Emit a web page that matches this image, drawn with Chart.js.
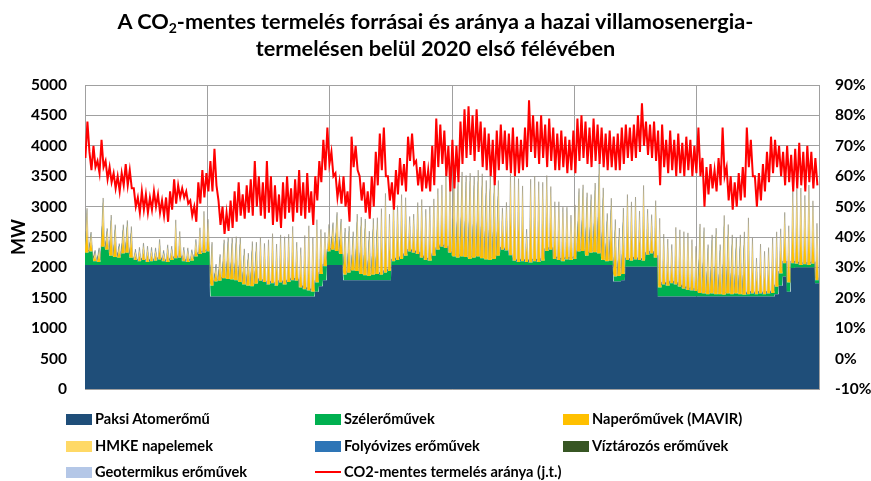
<!DOCTYPE html>
<html><head><meta charset="utf-8">
<script src="https://cdn.jsdelivr.net/npm/chart.js@4.4.0/dist/chart.umd.min.js"></script>
<style>
html,body{margin:0;padding:0;background:#fff;}
#wrap{position:relative;width:871px;height:481px;overflow:hidden;font-family:Lato,"Open Sans",sans-serif;color:#000;}
#c{position:absolute;left:0;top:0;}
#title{position:absolute;left:0;top:8px;width:871px;text-align:center;font-weight:bold;font-size:21.7px;line-height:27px;}
#title sub{font-size:14px;vertical-align:-4px;line-height:0;}
.lg{position:absolute;font-weight:bold;font-size:14.6px;line-height:16px;white-space:nowrap;}
.sw{position:absolute;width:26px;height:11px;}
.ln{position:absolute;width:26px;height:2px;background:#FF0000;}
</style></head>
<body><div id="wrap">
<canvas id="c" width="871" height="481"></canvas>
<div id="title">A CO<sub>2</sub>-mentes termelés forrásai és aránya a hazai villamosenergia-<br>termelésen belül 2020 első félévében</div>
<div id="legend"></div>
</div>
<script>
// ---- data: one value per day, 1 Jan 2020 – 30 Jun 2020 ----
const monthDays=[31,29,31,30,31,30];
const paks=[
2040,2040,2040,2040,2040,2040,2040,2040,2040,2040,2040,2040,2040,2040,2040,2040,2040,2040,2040,2040,2040,2040,2040,2040,2040,2040,2040,2040,2040,2040,2040,
1520,1520,1520,1520,1520,1520,1520,1520,1520,1520,1520,1520,1520,1520,1520,1520,1520,1520,1520,1520,1520,1520,1520,1520,1520,1520,1600,1690,1790,
2040,2040,2040,2040,1790,1790,1790,1790,1790,1790,1790,1790,1790,1790,1790,1790,2040,2040,2040,2040,2040,2040,2040,2040,2040,2040,2040,2040,2040,2040,2040,
2040,2040,2040,2040,2040,2040,2040,2040,2040,2040,2040,2040,2040,2040,2040,2040,2040,2040,2040,2040,2040,2040,2040,2040,2040,2040,2040,2040,2040,2040,
2040,2040,2040,2040,2040,2040,2040,2040,2040,2040,1770,1770,1790,2010,2010,2010,2010,2010,2010,2010,2010,1520,1520,1520,1520,1520,1520,1520,1520,1520,1520,
1520,1520,1520,1520,1520,1520,1520,1520,1520,1520,1520,1520,1520,1520,1520,1520,1520,1520,1520,1560,1700,1850,1600,1990,2000,2000,2000,2000,2000,1740];
const wind=[
200,220,60,50,300,250,150,130,120,190,200,120,80,60,80,50,60,70,90,60,50,80,110,120,60,50,70,140,180,200,220,
180,250,260,300,290,280,270,240,200,180,170,210,260,240,200,220,180,230,200,240,270,260,150,120,100,80,150,200,230,
220,250,230,180,90,120,160,150,100,80,70,90,100,90,120,150,60,80,100,150,220,200,180,120,80,70,150,250,300,280,200,
140,120,140,130,100,120,140,110,90,80,100,150,250,240,160,70,50,60,50,40,60,50,70,230,250,100,80,60,90,80,
100,220,230,150,200,210,190,80,60,70,80,90,100,110,100,120,110,100,200,220,150,150,200,180,220,200,160,130,110,100,90,
60,50,40,50,40,40,30,50,40,50,40,30,40,50,40,50,40,50,60,120,200,220,150,80,60,40,50,40,60,50];
// midday peak of solar output (MW)
const solarMavir=[
390,160,80,110,420,180,350,280,110,240,280,260,80,110,140,130,110,100,170,80,140,110,330,220,110,110,80,140,220,360,280,
370,140,220,330,360,360,370,390,300,280,390,360,370,330,390,430,360,410,410,410,470,330,340,470,570,470,550,390,290,
230,230,330,300,400,400,330,500,500,490,390,490,490,580,700,500,550,470,560,510,300,330,450,510,440,470,500,530,540,660,610,
690,660,740,720,750,720,760,740,690,760,720,660,360,410,720,740,730,660,280,730,750,700,690,660,550,500,510,470,450,390,
470,550,580,550,510,610,800,630,410,540,500,410,580,570,510,540,420,660,390,330,500,610,430,400,330,500,500,500,500,440,390,
610,580,430,510,580,430,700,610,520,480,520,550,670,480,310,430,370,400,480,480,390,440,500,630,660,680,610,700,550,500];
const solarHmke=[
310,130,70,90,350,140,290,220,90,200,220,220,70,90,110,100,90,80,130,70,110,90,270,180,90,90,70,110,180,290,220,
310,110,180,270,290,290,310,310,250,220,310,290,310,270,310,350,290,340,340,340,380,270,280,380,460,390,450,310,230,
180,180,270,240,330,330,270,400,400,400,310,400,400,470,570,400,450,390,460,410,240,270,360,410,360,390,400,440,440,540,490,
560,540,610,580,620,580,620,610,570,620,580,540,290,340,580,610,600,540,220,600,610,580,560,540,450,400,410,380,370,310,
380,450,470,450,410,490,650,520,340,450,400,340,470,470,420,450,350,540,320,270,400,490,360,330,270,400,400,400,400,360,310,
490,470,350,420,470,350,570,490,420,400,420,450,550,400,250,350,300,320,400,390,310,360,400,520,540,550,490,580,450,400];
// small sources, monthly level (MW)
const riverMonthly=[24,26,28,30,29,27];
const reservoirMonthly=[5,6,6,7,6,5];
const geoMonthly=[3,3,3,3,3,3];
// CO2-free share (%), two readings per day
const ratio=[
66,78, 68,62, 70,63, 65,61, 72,63, 65,59, 63,58, 61,56, 60,55, 61,57, 64,57, 62,56, 56,50, 53,48, 55,49, 54,48,
53,49, 55,50, 54,48, 52,47, 53,45, 55,49, 59,51, 57,53, 56,53, 55,51, 52,47, 50,45, 58,51, 62,53, 61,55,
65,55, 69,57, 52,44, 50,41, 48,42, 52,43, 55,45, 58,47, 54,46, 57,48, 59,47, 65,50, 60,47, 58,46, 65,48,
60,44, 57,45, 54,43, 58,46, 60,48, 56,45, 59,48, 62,47, 58,46, 61,48, 55,44, 60,52, 65,58, 72,62,
76,64, 68,60, 61,53, 58,51, 60,50, 55,45, 73,63, 70,62, 60,52, 58,48, 55,46, 60,50, 68,57, 74,62, 76,60, 60,52,
58,49, 62,54, 66,57, 64,55, 73,65, 74,64, 65,57, 63,55, 65,56, 62,55, 70,57, 79,63, 77,64, 75,60, 70,55,
72,56, 70,58, 78,64, 82,66, 83,67, 80,65, 82,68, 78,63, 76,62, 74,60, 72,57, 75,62, 77,64, 75,62, 74,61,
76,60, 73,61, 72,62, 76,63, 85,68, 80,66, 78,64, 80,66, 77,63, 79,65, 76,62, 74,62, 75,63, 73,61, 72,62,
75,61, 79,65, 80,66, 78,64, 76,63, 79,65, 77,64, 76,63, 74,62, 75,63, 73,62, 74,62, 76,64, 77,66, 76,65, 77,66,
80,68, 84,70, 78,67, 77,66, 78,65, 75,57, 77,63, 72,61, 75,62, 72,60, 74,61, 71,60, 73,62, 72,60, 70,61,
76,60, 66,50, 63,54, 64,56, 62,55, 66,57, 76,60, 63,52, 60,49, 58,50, 61,52, 63,53, 76,63, 72,60, 60,50,
61,52, 64,55, 68,58, 73,61, 72,63, 70,60, 68,57, 70,58, 67,55, 69,56, 71,57, 68,55, 70,58, 68,56, 66,57];

// ---- build library tables ----
const dayMonth=[]; monthDays.forEach((n,m)=>{for(let i=0;i<n;i++)dayMonth.push(m);});
const nDays=dayMonth.length;
const STEPS=[0,0.15,0.5,0.85];
function flatSeries(daily){const o=[];daily.forEach((v,d)=>STEPS.forEach(s=>o.push({x:d+s,y:v})));o.push({x:nDays,y:daily[daily.length-1]});return o;}
function solarSeries(peaks){const o=[];peaks.forEach((v,d)=>STEPS.forEach((s,i)=>o.push({x:d+s,y:i===2?v:0})));o.push({x:nDays,y:0});return o;}
function monthlySeries(m){return flatSeries(dayMonth.map(k=>m[k]));}
const ratioSeries=ratio.map((v,i)=>({x:Math.floor(i/2)+(i%2?0.6:0.1),y:v}));

const area=(label,color,data,fill,border)=>({type:'line',label,data,backgroundColor:color,
  borderColor:border||color,borderWidth:border?0.9:0,fill,pointRadius:0,yAxisID:'y',order:1});
const datasets=[
 area('Paksi Atomerőmű','#1F4E79',flatSeries(paks),'origin'),
 area('Szélerőművek','#00B050',flatSeries(wind),'-1'),
 area('Naperőművek (MAVIR)','#FFC000',solarSeries(solarMavir),'-1'),
 area('HMKE napelemek','#FFD966',solarSeries(solarHmke),'-1'),
 area('Folyóvizes erőművek','#2E75B6',monthlySeries(riverMonthly),'-1'),
 area('Víztározós erőművek','#375623',monthlySeries(reservoirMonthly),'-1'),
 area('Geotermikus erőművek','#B4C7E7',monthlySeries(geoMonthly),'-1','rgba(160,152,128,0.75)'),
 {type:'line',label:'CO2-mentes termelés aránya (j.t.)',data:ratioSeries,borderColor:'#FF0000',borderWidth:2,fill:false,pointRadius:0,yAxisID:'y1',order:-1}
];

Chart.defaults.font.family='Lato';
const gridC='#A0A0A0';
const tickFont={family:'Lato',weight:'bold',size:15.5};
new Chart(document.getElementById('c'),{
 data:{datasets},
 options:{
  responsive:false,animation:false,
  layout:{padding:{left:0,right:0,top:85,bottom:92}},
  plugins:{legend:{display:false},tooltip:{enabled:false},title:{display:false}},
  elements:{line:{tension:0}},
  scales:{
   x:{type:'linear',min:0,max:nDays,ticks:{display:false},
      grid:{color:gridC,drawTicks:false,lineWidth:1},border:{display:true,color:gridC},
      afterBuildTicks:s=>{s.ticks=[0,1,2,3,4,5,6].map(k=>({value:k*nDays/6}));},
      afterFit:s=>{s.height=0;}},
   y:{type:'linear',stacked:true,min:0,max:5000,
      ticks:{stepSize:500,font:tickFont,color:'#000',padding:18,callback:v=>String(v)},
      grid:{color:gridC,drawTicks:false},border:{display:true,color:gridC},
      title:{display:true,text:'MW',font:{family:'Lato',weight:'bold',size:18},color:'#000',padding:{top:8,bottom:0}},
      afterFit:s=>{s.width=85;}},
   y1:{type:'linear',position:'right',min:-10,max:90,
      ticks:{stepSize:10,font:tickFont,color:'#000',padding:16,callback:v=>v+'%'},
      grid:{display:false,drawTicks:false},border:{display:true,color:gridC},
      afterFit:s=>{s.width=52;}}
  }
 }
});

// ---- legend (HTML text) ----
const legendItems=[
 [66,419,'Paksi Atomerőmű','#1F4E79'],[315,419,'Szélerőművek','#00B050'],[563,419,'Naperőművek (MAVIR)','#FFC000'],
 [66,446,'HMKE napelemek','#FFD966'],[315,446,'Folyóvizes erőművek','#2E75B6'],[563,446,'Víztározós erőművek','#375623'],
 [66,472,'Geotermikus erőművek','#B4C7E7'],[315,472,'CO2-mentes termelés aránya (j.t.)',null]
];
const lg=document.getElementById('legend');
legendItems.forEach(([x,y,t,c])=>{
 const s=document.createElement('div');
 if(c){s.className='sw';s.style.left=x+'px';s.style.top=(y-5)+'px';s.style.background=c;}
 else{s.className='ln';s.style.left=x+'px';s.style.top=(y-1)+'px';}
 lg.appendChild(s);
 const d=document.createElement('div');d.className='lg';d.textContent=t;d.style.left=(x+29)+'px';d.style.top=(y-8)+'px';lg.appendChild(d);
});
</script>
</body></html>
